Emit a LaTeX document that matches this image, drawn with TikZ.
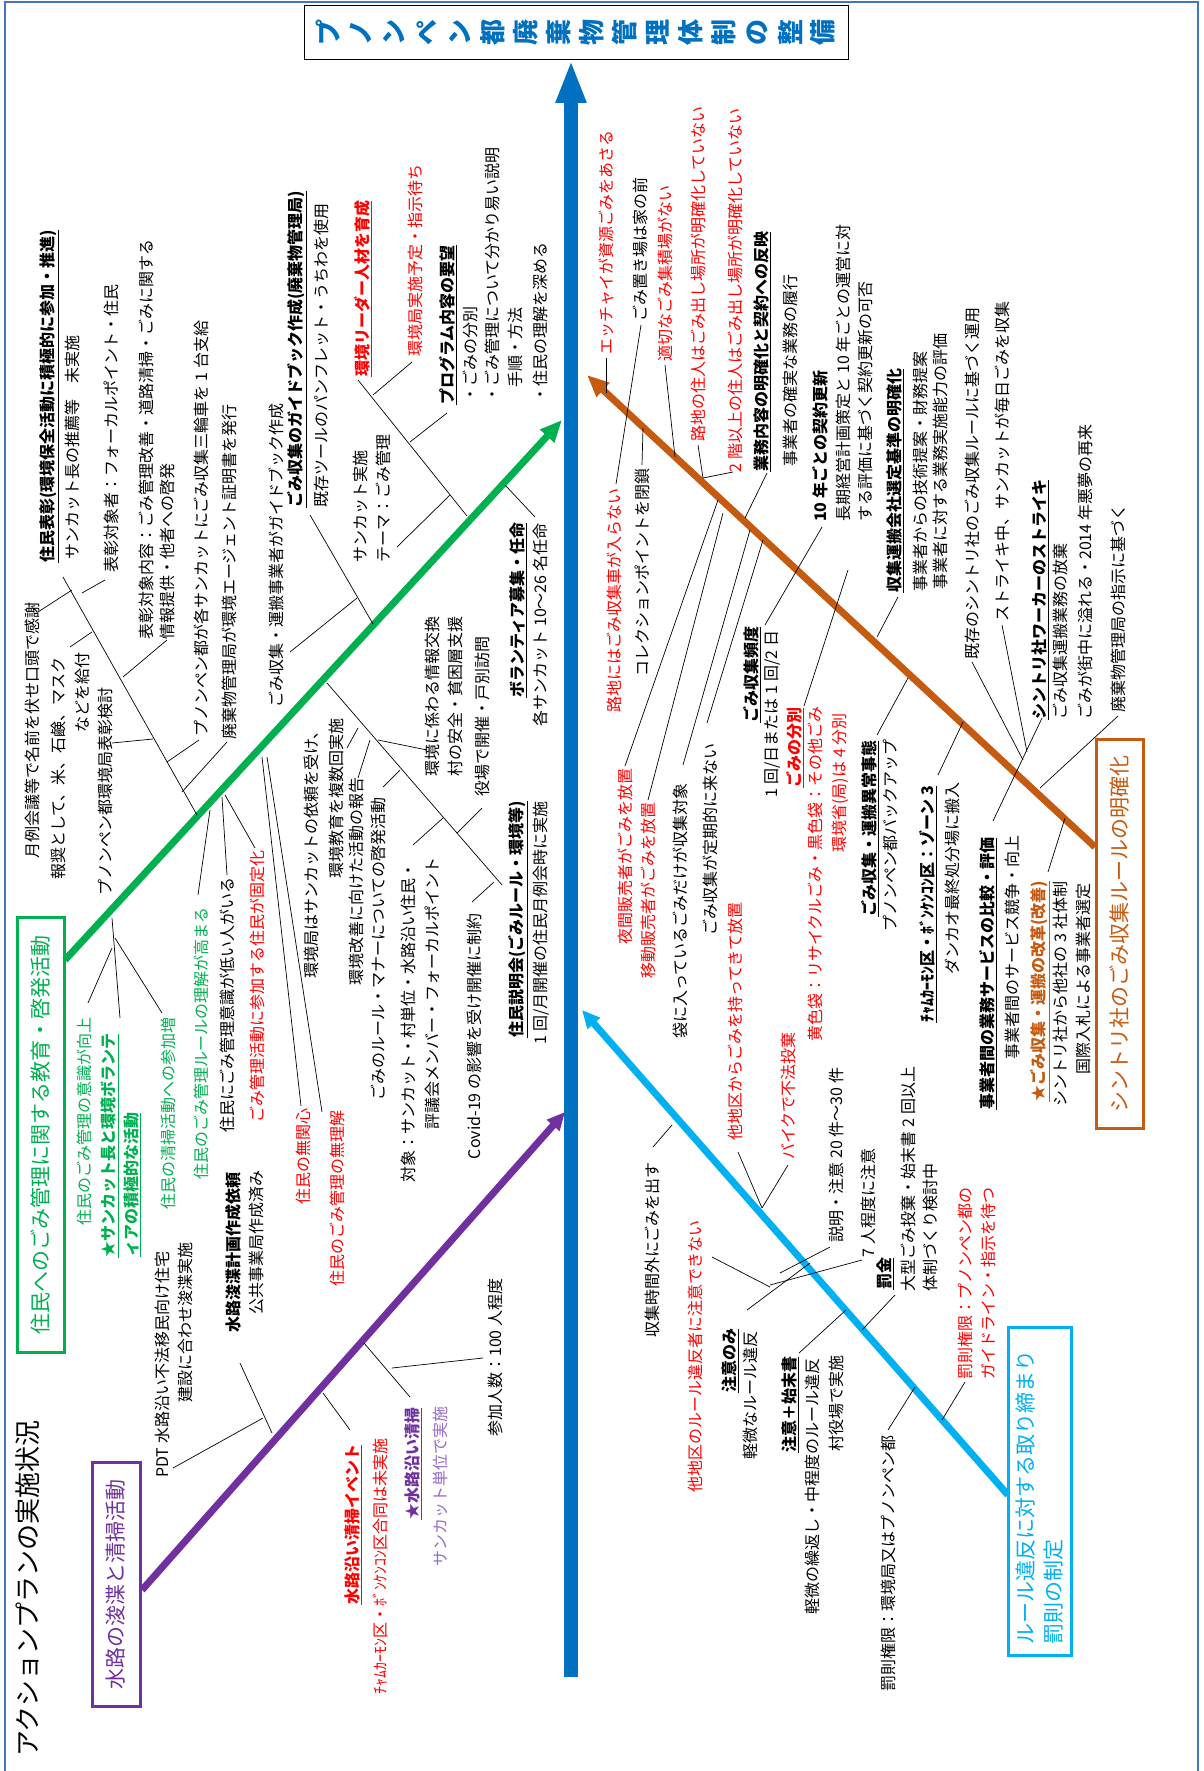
\documentclass[tikz,border=0pt]{standalone}
\usepackage{fontspec}
\newfontfamily\jp{Noto Sans CJK JP}
\usetikzlibrary{arrows.meta}
\definecolor{cblue}{RGB}{0,112,192}
\definecolor{cgreen}{RGB}{0,176,80}
\definecolor{cpurple}{RGB}{112,48,160}
\definecolor{clpurple}{RGB}{150,105,205}
\definecolor{corange}{RGB}{197,90,17}
\definecolor{ccyan}{RGB}{0,176,240}
\definecolor{cred}{RGB}{255,0,0}
\definecolor{cframe}{RGB}{68,114,196}
\newcommand\fsz{\fontsize{16}{19}\selectfont}
\newcommand\ks{\hspace{0.25em}}
\newcommand\tn[5][]{\node[tx,#1] (#2) at (#3,#4) {#5};}
\newcommand\hn[5][]{\node[hd,#1] (#2) at (#3,#4) {\underline{#5}};}
\begin{document}
\begin{tikzpicture}[x=1pt,y=-1pt,
 tx/.style={rotate=90,anchor=west,inner sep=0pt,font=\jp\fsz,text=black},
 hd/.style={tx,font=\jp\bfseries\fsz},
 bf/.style={font=\jp\bfseries\fsz},
 rd/.style={text=cred},
 gr/.style={text=cgreen},
 pu/.style={text=cpurple},
 lpu/.style={text=clpurple},
 or/.style={text=corange},
 ln/.style={draw=black,line width=0.7pt},
 bone/.style={line width=7pt},
 bigbox/.style={rotate=90,line width=3pt,inner sep=0pt,font=\jp\fontsize{21}{28}\selectfont}]
\useasboundingbox (0,0) rectangle (1203,1771);
\fill[white] (0,0) rectangle (1203,1771);
\draw[cframe,line width=1.5pt] (5,1771) -- (5,2) -- (1198,2) -- (1198,1771);

% title
\node[draw,line width=0.8pt,minimum width=544pt,minimum height=54pt,inner sep=0pt] (title) at (576,32) {};
\foreach \c [count=\i from 0] in {プ,ノ,ン,ペ,ン,都,廃,棄,物,管,理,体,制,の,整,備}
  \node[rotate=90,inner sep=0pt,text=cblue,font=\jp\bfseries\fontsize{26}{26}\selectfont] (tc\i) at (328+33*\i,33) {\c};

% spine and bones
\draw[cblue,line width=14pt,-{Triangle[length=43pt,width=28pt]}] (571,1677) -- (571,60);
\draw[cgreen,bone,-{Triangle[length=22pt,width=18pt]}] (65,960) -- (562,420);
\draw[cpurple,bone,-{Triangle[length=18pt,width=16pt]}] (142,1590) -- (565,1112);
\draw[corange,bone,-{Triangle[length=22pt,width=18pt]}] (1095,847) -- (587,375);
\draw[ccyan,bone,-{Triangle[length=18pt,width=16pt]}] (1008,1495) -- (582,1010);

% boxes
\node[bigbox,draw=cgreen,text=cgreen,minimum width=435pt,minimum height=47pt] (boxG) at (40.5,1134.5) {住民へのごみ管理に関する教育・啓発活動};
\node[bigbox,draw=cpurple,text=cpurple,minimum width=244pt,minimum height=48pt] (boxP) at (116,1584) {水路の浚渫と清掃活動};
\node[bigbox,draw=corange,text=corange,minimum width=389pt,minimum height=47pt] (boxO) at (1119.5,933.5) {シントリ社のごみ収集ルールの明確化};
\node[bigbox,draw=ccyan,text=ccyan,minimum width=328pt,minimum height=63pt,text width=306pt,align=left,inner xsep=11pt] (boxC) at (1039.5,1491) {ルール違反に対する取り締まり\\罰則の制定};
\node[rotate=90,anchor=west,inner sep=0pt,font=\jp\fontsize{26}{28}\selectfont] (status) at (28,1757) {アクションプランの実施状況};

% ---- upper left (green) ----
\hn{hA}{49}{563}{住民表彰(環境保全活動に積極的に参加・推進)}
\tn{tA1}{72}{560}{サンカット長の推薦等　未実施}
\tn{tA2}{111}{573}{表彰対象者：フォーカルポイント・住民}
\tn{tA3}{146}{640}{表彰対象内容：ごみ管理改善・道路清掃・ごみに関する}
\tn{tA4}{167}{640}{情報提供・他者への啓発}
\tn{tA5}{201}{737}{プノンペン都が各サンカットにごみ収集三輪車を\ks{}1\ks{}台支給}
\tn{tA6}{229}{740}{廃棄物管理局が環境エージェント証明書を発行}
\tn[anchor=east]{tA7}{32}{602}{月例会議等で名前を伏せ口頭で感謝}
\tn[anchor=east]{tA8}{58}{657}{報奨として、米、石鹸、マスク}
\tn[anchor=east]{tA9}{82}{652}{などを給付}
\tn[anchor=east]{tA10}{105}{687}{プノンペン都環境局表彰検討}
\tn{tB1}{276}{708}{ごみ収集・運搬事業者がガイドブック作成}
\hn{hB}{297}{508}{ごみ収集のガイドブック作成(廃棄物管理局)}
\tn{tB2}{321}{508}{既存ツールのパンフレット・うちわを使用}
\hn[rd]{hC}{363}{377}{環境リーダー人材を育成}
\tn[rd]{tC1}{415}{357}{環境局実施予定・指示待ち}
\hn{hD}{448}{405}{プログラム内容の要望}
\tn{tD1}{470}{403}{・ごみの分別}
\tn{tD2}{492}{403}{・ごみ管理について分かり易い説明}
\tn{tD3}{515}{388}{手順・方法}
\tn{tD4}{540}{403}{・住民の理解を深める}
\tn{tE1}{360}{563}{サンカット実施}
\tn{tE2}{383}{563}{テーマ：ごみ管理}
\hn{hF}{518}{698}{ボランティア募集・任命}
\tn{tF1}{540}{727}{各サンカット\ks{}10〜26\ks{}名任命}
\tn{tG1}{432}{777}{環境に係わる情報交換}
\tn{tG2}{455}{777}{村の安全・貧困層支援}
\tn{tG3}{482}{797}{役場で開催・戸別訪問}
\tn[anchor=east]{tH1}{311}{723}{環境局はサンカットの依頼を受け、}
\tn[anchor=east]{tH2}{336}{718}{環境教育を複数回実施}
\tn[anchor=east]{tH3}{356}{777}{環境改善に向けた活動の報告}
\tn[anchor=east]{tH4}{378}{797}{ごみのルール・マナーについての啓発活動}
\tn[anchor=east]{tH5}{408}{862}{対象：サンカット・村単位・水路沿い住民・}
\tn[anchor=east]{tH6}{432}{857}{評議会メンバー・フォーカルポイント}
\tn[anchor=east]{tH7}{474}{913}{Covid-19\ks{}の影響を受け開催に制約}
\hn{hI}{518}{1038}{住民説明会(ごみルール・環境等)}
\tn{tI1}{541}{1045}{1\ks{}回/月開催の住民月例会時に実施}
\tn[anchor=east,gr]{tJ1}{84}{1017}{住民のごみ管理の意識が向上}
\hn[gr]{hJ}{110}{1258}{★サンカット長と環境ボランテ}
\hn[gr]{hJ2}{132}{1257}{ィアの積極的な活動}
\tn[anchor=east,gr]{tJ3}{168}{1017}{住民の清掃活動への参加増}
\tn[anchor=east,gr]{tJ4}{201}{907}{住民のごみ管理ルールの理解が高まる}
\tn[anchor=east]{tK1}{227}{877}{住民にごみ管理意識が低い人がいる}
\tn[anchor=east,rd]{tK2}{257}{850}{ごみ管理活動に参加する住民が固定化}
\tn[anchor=east,rd]{tK3}{303}{1108}{住民の無関心}
\tn[anchor=east,rd]{tK4}{337}{1110}{住民のごみ管理の無理解}

% ---- lower left (purple) ----
\tn{tL1}{162}{1478}{PDT\ks{}水路沿い不法移民向け住宅}
\tn{tL2}{185}{1403}{建設に合わせ浚渫実施}
\tn[bf]{tL3}{233}{1333}{水路浚渫計画作成依頼}
\tn{tL4}{256}{1315}{公共事業局作成済み}
\hn[rd]{hM}{353}{1605}{水路沿い清掃イベント}
\tn[rd,anchor=east]{tM1}{380}{1438}{ﾁｬﾑｶｰﾓﾝ区・ﾎﾞﾝｹﾝｺﾝ区合同は未実施}
\hn[pu]{hN}{413}{1520}{★水路沿い清掃}
\tn[lpu]{tN1}{440}{1567}{サンカット単位で実施}
\tn{tN2}{495}{1437}{参加人数：100\ks{}人程度}

% ---- upper right (orange) ----
\tn[rd]{tR1}{606}{355}{エッチャイが資源ごみをあさる}
\tn{tR2}{640}{322}{ごみ置き場は家の前}
\tn[rd]{tR3}{665}{362}{適切なごみ集積場がない}
\tn[rd]{tR4}{698}{442}{路地の住人はごみ出し場所が明確化していない}
\tn[rd]{tR5}{735}{473}{2\ks{}階以上の住人はごみ出し場所が明確化していない}
\hn{hS}{762}{472}{業務内容の明確化と契約への反映}
\tn{tS1}{790}{467}{事業者の確実な業務の履行}
\tn[bf]{tT}{820}{522}{10\ks{}年ごとの契約更新}
\tn{tT1}{843}{522}{長期経営計画策定と\ks{}10\ks{}年ごとの運営に対}
\tn{tT2}{865}{522}{する評価に基づく契約更新の可否}
\hn{hU}{895}{593}{収集運搬会社選定基準の明確化}
\tn{tU1}{920}{592}{事業者からの技術提案・財務提案}
\tn{tU2}{940}{590}{事業者に対する業務実施能力の評価}
\tn{tV1}{972}{660}{既存のシントリ社のごみ収集ルールに基づく運用}
\tn{tV2}{1002}{622}{ストライキ中、サンカットが毎日ごみを収集}
\hn{hW}{1040}{720}{シントリ社ワーカーのストライキ}
\tn{tW1}{1060}{720}{ごみ収集運搬業務の放棄}
\tn{tW2}{1085}{720}{ごみが街中に溢れる・2014\ks{}年悪夢の再来}
\tn{tW3}{1118}{713}{廃棄物管理局の指示に基づく}
\tn[rd]{tX1}{614}{713}{路地にはごみ収集車が入らない}
\tn{tX2}{642}{677}{コレクションポイントを閉鎖}
\hn{hY}{752}{723}{ごみ収集頻度}
\tn{tY1}{773}{798}{1\ks{}回/日または\ks{}1\ks{}回/2\ks{}日}
\hn[rd]{hZ}{795}{788}{ごみの分別}
\tn[rd]{tZ1}{815}{1042}{黄色袋：リサイクルごみ・黒色袋：その他ごみ}
\tn[rd]{tZ2}{840}{853}{環境省(局)は\ks{}4\ks{}分別}
\tn[rd,anchor=east]{tX3}{625}{768}{夜間販売者がごみを放置}
\tn[rd,anchor=east]{tX4}{648}{802}{移動販売者がごみを放置}
\tn[anchor=east]{tX5}{680}{783}{袋に入っているごみだけが収集対象}
\tn[anchor=east]{tX6}{710}{743}{ごみ収集が定期的に来ない}
\hn{hAA}{870}{917}{ごみ収集・運搬異常事態}
\tn{tAA1}{890}{932}{プノンペン都バックアップ}
\hn{hAB}{928}{1023}{ﾁｬﾑｶｰﾓﾝ区・ﾎﾞﾝｹﾝｺﾝ区：ゾーン\ks{}3}
\tn{tAB1}{952}{975}{ダンカオ最終処分場に搬入}
\hn{hAC}{988}{1110}{事業者間の業務サービスの比較・評価}
\tn{tAC1}{1012}{1060}{事業者間のサービス競争・向上}
\hn[or]{hAD}{1040}{1102}{★ごみ収集・運搬の改革(改善)}
\tn{tAD1}{1060}{1107}{シントリ社から他社の\ks{}3\ks{}社体制}
\tn{tAD2}{1083}{1075}{国際入札による事業者選定}

% ---- lower right (cyan) ----
\tn[rd,anchor=east]{tBA1}{735}{902}{他地区からごみを持ってきて放置}
\tn[rd,anchor=east]{tBA2}{788}{1032}{バイクで不法投棄}
\tn{tBB1}{836}{1243}{説明・注意\ks{}20\ks{}件〜30\ks{}件}
\tn{tBB2}{868}{1258}{7\ks{}人程度に注意}
\hn{hBC}{885}{1290}{罰金}
\tn{tBC1}{908}{1292}{大型ごみ投棄・始末書\ks{}2\ks{}回以上}
\tn{tBC2}{930}{1292}{体制づくり検討中}
\tn[rd]{tBD1}{965}{1380}{罰則権限：プノンペン都の}
\tn[rd]{tBD2}{988}{1380}{ガイドライン・指示を待つ}
\tn[anchor=east]{tBE}{652}{1162}{収集時間外にごみを出す}
\tn[rd,anchor=east]{tBF}{695}{1220}{他地区のルール違反者に注意できない}
\hn{hBG}{730}{1393}{注意のみ}
\tn{tBG1}{750}{1460}{軽微なルール違反}
\hn{hBH}{790}{1453}{注意＋始末書}
\tn{tBH1}{812}{1615}{軽微の繰返し・中程度のルール違反}
\tn{tBH2}{836}{1452}{村役場で実施}
\tn{tBI}{888}{1692}{罰則権限：環境局又はプノンペン都}

% ---- thin lines ----
\begin{scope}[ln]
% green upper
\draw (63,577) -- (197,815);
\draw (38,612) -- (72,590);
\draw (82,593) -- (105,580);
\draw (70,647) -- (92,632);
\draw (123,677) -- (167,640);
\draw (112,743) -- (153,739);
\draw (167,762) -- (199,740);
\draw (182,792) -- (227,742);
\draw (310,515) -- (373,624);
\draw (290,652) -- (357,598);
\draw (358,380) -- (467,516);
\draw (373,395) -- (412,362);
\draw (410,442) -- (447,413);
\draw (397,547) -- (450,495);
\draw (505,485) -- (535,517);
% green lower
\draw (327,683) -- (502,885);
\draw (472,902) -- (494,882);
\draw (378,740) -- (427,750);
\draw (347,748) -- (358,728);
\draw (358,778) -- (370,740);
\draw (383,787) -- (400,770);
\draw (413,845) -- (443,818);
\draw (457,833) -- (482,808);
\draw (112,918) -- (120,1018);
\draw (112,948) -- (88,1003);
\draw (115,938) -- (162,1013);
\draw (198,895) -- (210,810);
\draw (222,797) -- (227,875);
\draw (225,795) -- (255,848);
\draw (262,757) -- (301,1106);
\draw (267,757) -- (322,1112);
% purple
\draw (272,1433) -- (240,1363);
\draw (173,1468) -- (263,1418);
\draw (323,1393) -- (350,1430);
\draw (364,1343) -- (410,1397);
\draw (392,1368) -- (483,1358);
% orange
\draw (606,358) -- (606,393);
\draw (641,325) -- (616,484);
\draw (643,428) -- (642,465);
\draw (665,365) -- (675,457);
\draw (698,445) -- (703,478);
\draw (733,472) -- (703,478);
\draw (767,473) -- (745,518);
\draw (625,766) -- (718,500);
\draw (648,800) -- (723,513);
\draw (683,765) -- (750,530);
\draw (707,723) -- (763,540);
\draw (765,625) -- (822,527);
\draw (804,706) -- (848,570);
\draw (898,597) -- (877,637);
\draw (877,735) -- (908,678);
\draw (938,775) -- (963,722);
\draw (993,821) -- (1042,718);
\draw (972,662) -- (1023,760);
\draw (1002,625) -- (1027,752);
\draw (1048,872) -- (1065,818);
\draw (1118,716) -- (1040,788);
% cyan
\draw (653,1147) -- (672,1125);
\draw (738,1152) -- (762,1208);
\draw (788,1165) -- (762,1208);
\draw (712,1257) -- (770,1287);
\draw (747,1310) -- (810,1263);
\draw (780,1273) -- (830,1247);
\draw (770,1285) -- (862,1260);
\draw (799,1353) -- (846,1310);
\draw (895,1295) -- (862,1330);
\draw (888,1430) -- (915,1387);
\draw (942,1420) -- (965,1382);
\end{scope}
\end{tikzpicture}
\end{document}
